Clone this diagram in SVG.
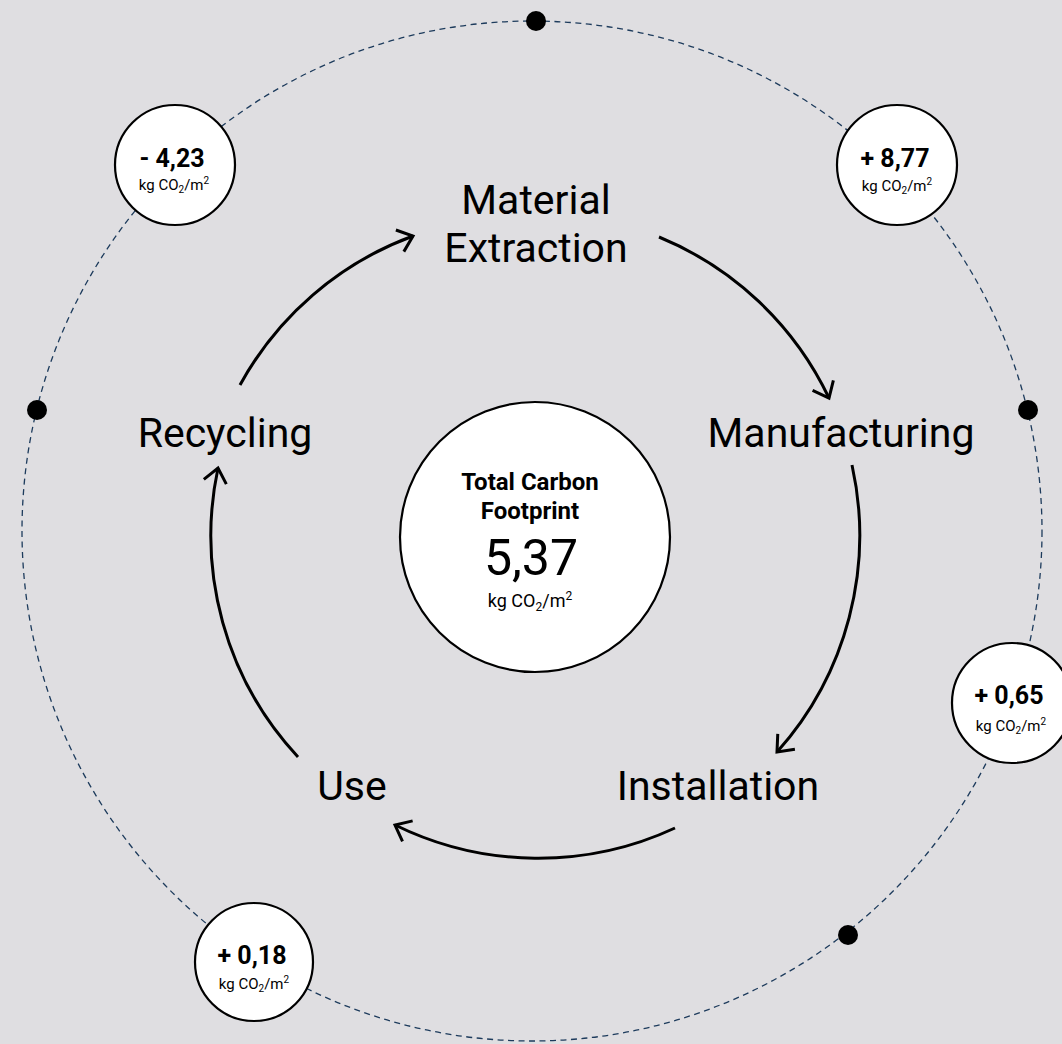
<svg xmlns="http://www.w3.org/2000/svg" width="1062" height="1044" viewBox="0 0 1062 1044">
<defs>
<style>
text{font-family:Roboto,"Liberation Sans",sans-serif;fill:#000;text-anchor:middle}
.lbl{font-size:41px}
.num{font-size:25px;font-weight:700}
.unit{font-size:15px}
.bub{fill:#fff;stroke:#000;stroke-width:2.2}
.arc{fill:none;stroke:#000;stroke-width:3}
.dot{fill:#000}
</style>
<marker id="ah" markerUnits="userSpaceOnUse" viewBox="-20 -16 24 32" refX="0" refY="0" markerWidth="24" markerHeight="32" orient="auto" overflow="visible">
<path d="M-14,-11.5 L0,0 L-14,11.5" fill="none" stroke="#000" stroke-width="3"/>
</marker>
</defs>
<rect x="0" y="0" width="1062" height="1044" fill="#dfdee1"/>
<g id="orbit">
<circle cx="532" cy="531" r="510" fill="none" stroke="#1d3b5c" stroke-width="1.3" stroke-dasharray="6 4.5"/>
</g>
<g id="connectors">
<path class="arc" d="M659,237 A325,325 0 0 1 829,398" marker-end="url(#ah)"/>
<path class="arc" d="M852,465 A325,325 0 0 1 777,752" marker-end="url(#ah)"/>
<path class="arc" d="M675,828 A325,325 0 0 1 395,825" marker-end="url(#ah)"/>
<path class="arc" d="M298,757 A325,325 0 0 1 218,468" marker-end="url(#ah)"/>
<path class="arc" d="M240,385 A325,325 0 0 1 413,236" marker-end="url(#ah)"/>
</g>
<g id="center">
<circle class="bub" cx="535" cy="537" r="135" stroke-width="2"/>
<text x="530" y="490" style="font-size:24px;font-weight:700">Total Carbon</text>
<text x="530" y="519" style="font-size:24px;font-weight:700">Footprint</text>
<text x="531" y="575" style="font-size:50px">5,37</text>
<text x="530" y="607" style="font-size:18px">kg CO<tspan font-size="12" dy="4">2</tspan><tspan dy="-4">/m</tspan><tspan font-size="12" dy="-7">2</tspan></text>
</g>
<g id="stage-material">
<text class="lbl" x="536" y="214">Material</text>
<text class="lbl" x="536" y="262">Extraction</text>
</g>
<g id="stage-manufacturing">
<text class="lbl" x="841" y="447">Manufacturing</text>
</g>
<g id="stage-installation">
<text class="lbl" x="718" y="800">Installation</text>
</g>
<g id="stage-use">
<text class="lbl" x="352" y="800">Use</text>
</g>
<g id="stage-recycling">
<text class="lbl" x="225" y="447">Recycling</text>
</g>
<g id="value-recycling">
<circle class="bub" cx="175" cy="165" r="60"/>
<text class="num" x="172" y="167">- 4,23</text>
<text class="unit" x="174" y="190">kg CO<tspan font-size="10" dy="3">2</tspan><tspan dy="-3">/m</tspan><tspan font-size="10" dy="-6">2</tspan></text>
</g>
<g id="value-extraction">
<circle class="bub" cx="897" cy="165" r="60"/>
<text class="num" x="895" y="167">+ 8,77</text>
<text class="unit" x="897" y="191">kg CO<tspan font-size="10" dy="3">2</tspan><tspan dy="-3">/m</tspan><tspan font-size="10" dy="-6">2</tspan></text>
</g>
<g id="value-manufacturing">
<circle class="bub" cx="1012" cy="703" r="60"/>
<text class="num" x="1009" y="704">+ 0,65</text>
<text class="unit" x="1011" y="731">kg CO<tspan font-size="10" dy="3">2</tspan><tspan dy="-3">/m</tspan><tspan font-size="10" dy="-6">2</tspan></text>
</g>
<g id="value-use">
<circle class="bub" cx="254" cy="962" r="59"/>
<text class="num" x="252" y="964">+ 0,18</text>
<text class="unit" x="254" y="989">kg CO<tspan font-size="10" dy="3">2</tspan><tspan dy="-3">/m</tspan><tspan font-size="10" dy="-6">2</tspan></text>
</g>
<g id="dots">
<circle class="dot" cx="536" cy="21" r="10"/>
<circle class="dot" cx="37" cy="410" r="10"/>
<circle class="dot" cx="1028" cy="410" r="10"/>
<circle class="dot" cx="848" cy="935" r="10"/>
</g>
</svg>
